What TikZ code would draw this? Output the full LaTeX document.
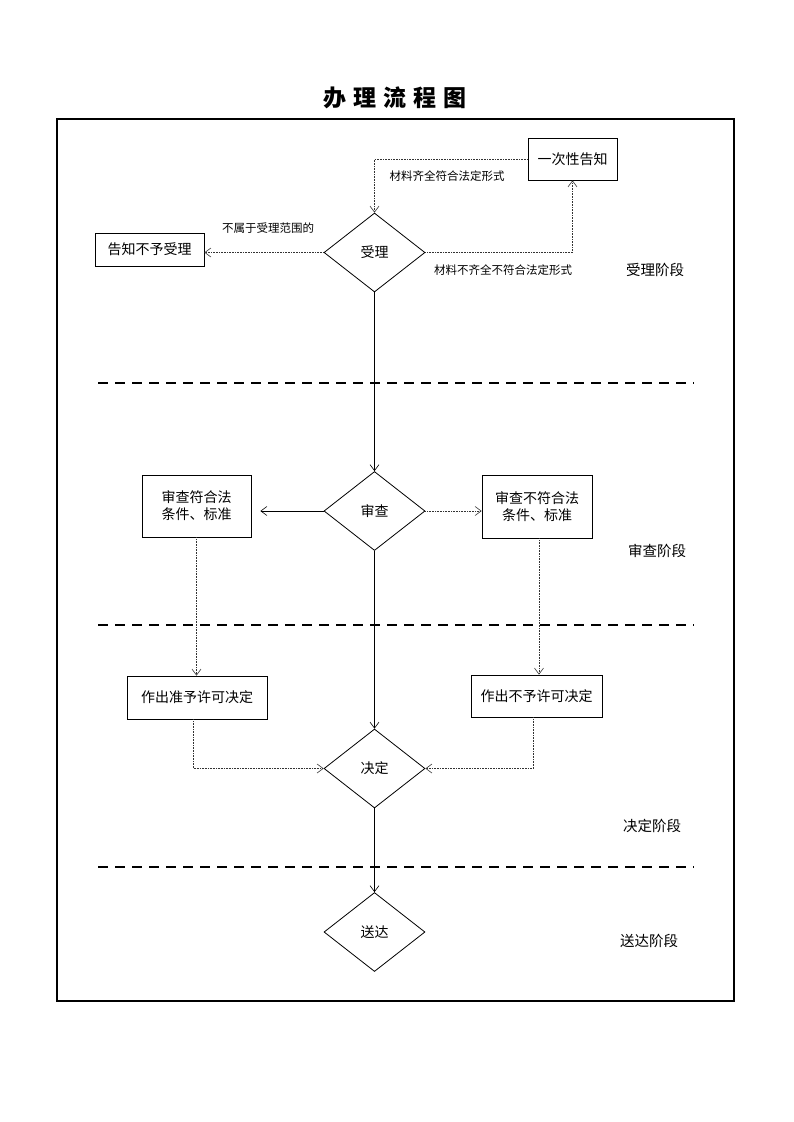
\documentclass[tikz,border=0pt]{standalone}
\usepackage{fontspec}
\setmainfont{Noto Sans CJK SC}
\usetikzlibrary{arrows.meta,shapes.geometric}
\begin{document}
\begin{tikzpicture}[x=1pt, y=-1pt,
    box/.style={draw, line width=0.8pt, align=center, font=\fontsize{14}{17}\selectfont, inner sep=2pt},
    dia/.style={draw, diamond, line width=0.8pt, minimum width=101pt, minimum height=79pt, inner sep=0pt, font=\fontsize{14}{17}\selectfont},
    tip/.style={-{Straight Barb[length=6pt, width=9pt]}},
    solidarr/.style={tip, line width=0.6pt},
    dotarr/.style={tip, line width=0.6pt, densely dotted, draw=black!80},
    lbl/.style={font=\fontsize{11.5}{13}\selectfont},
    phase/.style={font=\fontsize{14.5}{17}\selectfont},
    sep/.style={line width=2pt, dash pattern=on 10pt off 7pt}]
    \useasboundingbox (0,0) rectangle (794,1122);
    % title and frame
    \node[font=\fontsize{23}{26}\selectfont\bfseries] (title) at (395,98) {办\hspace{7pt}理\hspace{7pt}流\hspace{7pt}程\hspace{7pt}图};
    \draw[line width=2pt] (57,119) rectangle (734,1001);
    \foreach \y in {383,625,867} \draw[sep] (98,\y) -- (694,\y);
    % accept stage
    \node[box, minimum width=89pt, minimum height=42pt] (yici) at (572.5,159) {一次性告知};
    \node[dia] (shouli) at (374.5,252.5) {受理};
    \node[box, minimum width=109pt, minimum height=33pt] (gaozhi) at (149.5,249.5) {告知不予受理};
    \draw[dotarr] (yici.west) -| (shouli.north);
    \draw[dotarr] (shouli.east) -| (yici.south);
    \draw[dotarr] (shouli.west) -- (shouli.west -| gaozhi.east);
    \node[lbl] (qiquan) at (447,176) {材料齐全符合法定形式};
    \node[lbl] (buqi) at (503,270) {材料不齐全不符合法定形式};
    \node[lbl] (bushu) at (268,228) {不属于受理范围的};
    \node[phase] (p1) at (655,270) {受理阶段};
    % review stage
    \node[dia] (shencha) at (374.5,511) {审查};
    \node[box, minimum width=109pt, minimum height=62pt] (fuhe) at (196.5,506) {审查符合法\\条件、标准};
    \node[box, minimum width=110pt, minimum height=63pt] (bufuhe) at (537,506.5) {审查不符合法\\条件、标准};
    \draw[solidarr] (shouli.south) -- (shencha.north);
    \draw[solidarr, shorten >=9pt] (shencha.west) -- (shencha.west -| fuhe.east);
    \draw[dotarr] (shencha.east) -- (shencha.east -| bufuhe.west);
    \node[phase] (p2) at (657,551) {审查阶段};
    % decision stage
    \node[box, minimum width=140pt, minimum height=43pt] (zhunyu) at (197,697.5) {作出准予许可决定};
    \node[box, minimum width=131pt, minimum height=42pt] (buyu) at (536.5,696) {作出不予许可决定};
    \node[dia] (jueding) at (374.5,768.5) {决定};
    \draw[dotarr] (fuhe.south) -- (fuhe.south |- zhunyu.north);
    \draw[dotarr] ([xshift=2pt]bufuhe.south) -- ([xshift=2pt]bufuhe.south |- buyu.north);
    \draw[solidarr] (shencha.south) -- (jueding.north);
    \draw[dotarr] ([xshift=-4pt]zhunyu.south) |- (jueding.west);
    \draw[dotarr] ([xshift=-3pt]buyu.south) |- (jueding.east);
    \node[phase] (p3) at (652,826) {决定阶段};
    % delivery stage
    \node[dia] (songda) at (374.5,932) {送达};
    \draw[solidarr] (jueding.south) -- (songda.north);
    \node[phase] (p4) at (649,941) {送达阶段};
\end{tikzpicture}
\end{document}
